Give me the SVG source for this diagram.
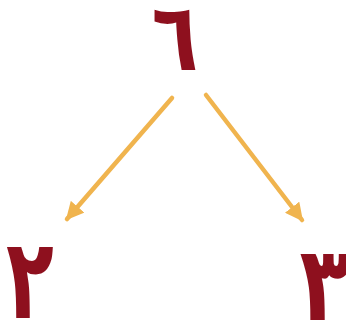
<svg xmlns="http://www.w3.org/2000/svg" width="346" height="322" viewBox="0 0 346 322">
<style>
.d{font-family:"DejaVu Sans",sans-serif;font-weight:bold;fill:#8E101E;text-anchor:middle}
.a{stroke:#F0B44E;stroke-width:4.5;stroke-linecap:round;fill:none}
</style>
<defs>
<marker id="h" viewBox="0 0 10 10" refX="9" refY="5" markerWidth="4" markerHeight="4" markerUnits="strokeWidth" orient="auto">
<path d="M0,0 L10,5 L0,10 z" fill="#F0B44E"/>
</marker>
</defs>
<rect width="346" height="322" fill="#fff"/>
<g id="connectors">
<line class="a" x1="172" y1="98" x2="67" y2="219" marker-end="url(#h)"/>
<line class="a" x1="206" y1="95" x2="302" y2="220" marker-end="url(#h)"/>
</g>
<g id="n6"><text class="d" transform="translate(175,70) scale(0.8,1)" font-size="95">٦</text></g>
<g id="n2"><text class="d" transform="translate(30,318) scale(0.7,1)" font-size="112">٢</text></g>
<g id="n3"><text class="d" transform="translate(325,320) scale(0.8,1)" font-size="104">٣</text></g>
</svg>
